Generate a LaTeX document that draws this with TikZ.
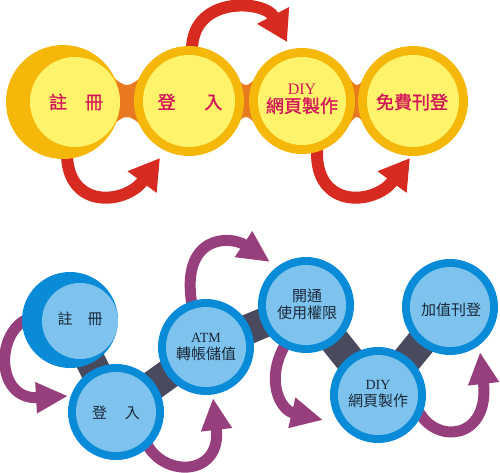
\documentclass[tikz,border=0pt]{standalone}
\usepackage{fontspec}
\newfontfamily\cjk{Noto Sans CJK TC}
\newfontfamily\cjkb[FakeBold=1.2]{Noto Sans CJK TC}
\newfontfamily\lat{Liberation Serif}
\usetikzlibrary{arrows.meta}
\definecolor{ygold}{HTML}{F5B70A}
\definecolor{ylight}{HTML}{FFF36B}
\definecolor{yorange}{HTML}{E8791E}
\definecolor{redarr}{HTML}{D72A20}
\definecolor{ytext}{HTML}{D4145A}
\definecolor{bdark}{HTML}{0A8BD8}
\definecolor{blight}{HTML}{7DC3EE}
\definecolor{bbar}{HTML}{4A4A5E}
\definecolor{parr}{HTML}{973F7D}
\definecolor{btext}{HTML}{1B2738}
\newcommand\ybridge[3]{%
  \fill[yorange] (#1,#3-28) .. controls ({(#1+#2)/2},#3-12) .. (#2,#3-28)
    -- (#2,#3+28) .. controls ({(#1+#2)/2},#3+12) .. (#1,#3+28) -- cycle;}
\begin{document}
\begin{tikzpicture}[x=1pt,y=-1pt,
  disc/.style={circle,inner sep=0pt,fill=#1},
  redarrow/.style={draw=redarr,line width=12pt,-{Triangle[length=30pt,width=34pt]}},
  purparrow/.style={draw=parr,line width=11pt,-{Triangle[length=32pt,width=29pt]}},
  darkbar/.style={draw=bbar,line width=30pt},
  ttext/.style={text=ytext,font=\cjkb\fontsize{18}{18}\selectfont,align=center,inner sep=0pt},
  btxt/.style={text=btext,font=\cjk\fontsize{15}{17}\selectfont,align=center,inner sep=0pt}]
\useasboundingbox (0,0) rectangle (500,472);

% ---------- top row ----------
\ybridge{108}{146}{101}
\ybridge{232}{260}{101}
\ybridge{346}{368}{101}

\draw[redarrow] (67,150) .. controls (65,210) and (125,205) .. (160,158);
\draw[redarrow] (192,50) .. controls (192,-5) and (265,0) .. (287,42);
\draw[redarrow] (317,150) .. controls (315,210) and (375,205) .. (410,158);

\node[disc=ygold,minimum size=114pt] (c1o) at (63,102) {};
\node[disc=ylight,minimum size=90pt] (c1i) at (75,102) {};
\node[disc=ygold,minimum size=110pt] (c2o) at (189,101) {};
\node[disc=ylight,minimum size=92pt] (c2i) at (189,101) {};
\node[disc=ygold,minimum size=106pt] (c3o) at (302,101) {};
\node[disc=ylight,minimum size=88pt] (c3i) at (302,101) {};
\node[disc=ygold,minimum size=110pt] (c4o) at (413,101) {};
\node[disc=ylight,minimum size=92pt] (c4i) at (413,101) {};

\node[ttext] (t1) at (76,102) {註\hspace{1em}冊};
\node[ttext] (t2) at (190,102) {登\hspace{1.6em}入};
\node[ttext] (t3) at (302,99) {{\lat\fontsize{16}{18}\selectfont DIY}\\網頁製作};
\node[ttext] (t4) at (412,102) {免費刊登};

% ---------- bottom row ----------
\coordinate (b1) at (70,320);
\coordinate (b2) at (116,412);
\coordinate (b3) at (206,347);
\coordinate (b4) at (306,305);
\coordinate (b5) at (378,395);
\coordinate (b6) at (450,307);
\draw[darkbar] (b1) -- (b2);
\draw[darkbar] (b2) -- (b3);
\draw[darkbar] (b3) -- (b4);
\draw[darkbar] (b4) -- (b5);
\draw[darkbar] (b5) -- (b6);

\draw[purparrow] (30,318) .. controls (-5,330) and (-5,400) .. (68,396);
\draw[purparrow] (145,440) .. controls (160,478) and (222,478) .. (213,398);
\draw[purparrow] (192,305) .. controls (180,235) and (230,235) .. (270,262);
\draw[purparrow] (285,345) .. controls (265,380) and (280,410) .. (323,420);
\draw[purparrow] (418,410) .. controls (435,445) and (490,440) .. (480,352);

\node[disc=bdark,minimum size=96pt] (b1o) at (b1) {};
\node[disc=blight,minimum size=76pt] (b1i) at (80,321) {};
\node[disc=bdark,minimum size=96pt] (b2o) at (b2) {};
\node[disc=blight,minimum size=80pt] (b2i) at (b2) {};
\node[disc=bdark,minimum size=96pt] (b3o) at (b3) {};
\node[disc=blight,minimum size=80pt] (b3i) at (b3) {};
\node[disc=bdark,minimum size=96pt] (b4o) at (b4) {};
\node[disc=blight,minimum size=80pt] (b4i) at (b4) {};
\node[disc=bdark,minimum size=96pt] (b5o) at (b5) {};
\node[disc=blight,minimum size=80pt] (b5i) at (b5) {};
\node[disc=bdark,minimum size=96pt] (b6o) at (b6) {};
\node[disc=blight,minimum size=80pt] (b6i) at (b6) {};

\node[btxt] (u1) at (80,319) {註\hspace{1em}冊};
\node[btxt] (u2) at (116,413) {登\hspace{1.2em}入};
\node[btxt] (u3) at (206,347) {{\lat\fontsize{14}{17}\selectfont ATM}\\轉帳儲值};
\node[btxt] (u4) at (307,304) {開通\\使用權限};
\node[btxt] (u5) at (378,394) {{\lat\fontsize{14}{17}\selectfont DIY}\\網頁製作};
\node[btxt] (u6) at (451,310) {加值刊登};
\end{tikzpicture}
\end{document}
